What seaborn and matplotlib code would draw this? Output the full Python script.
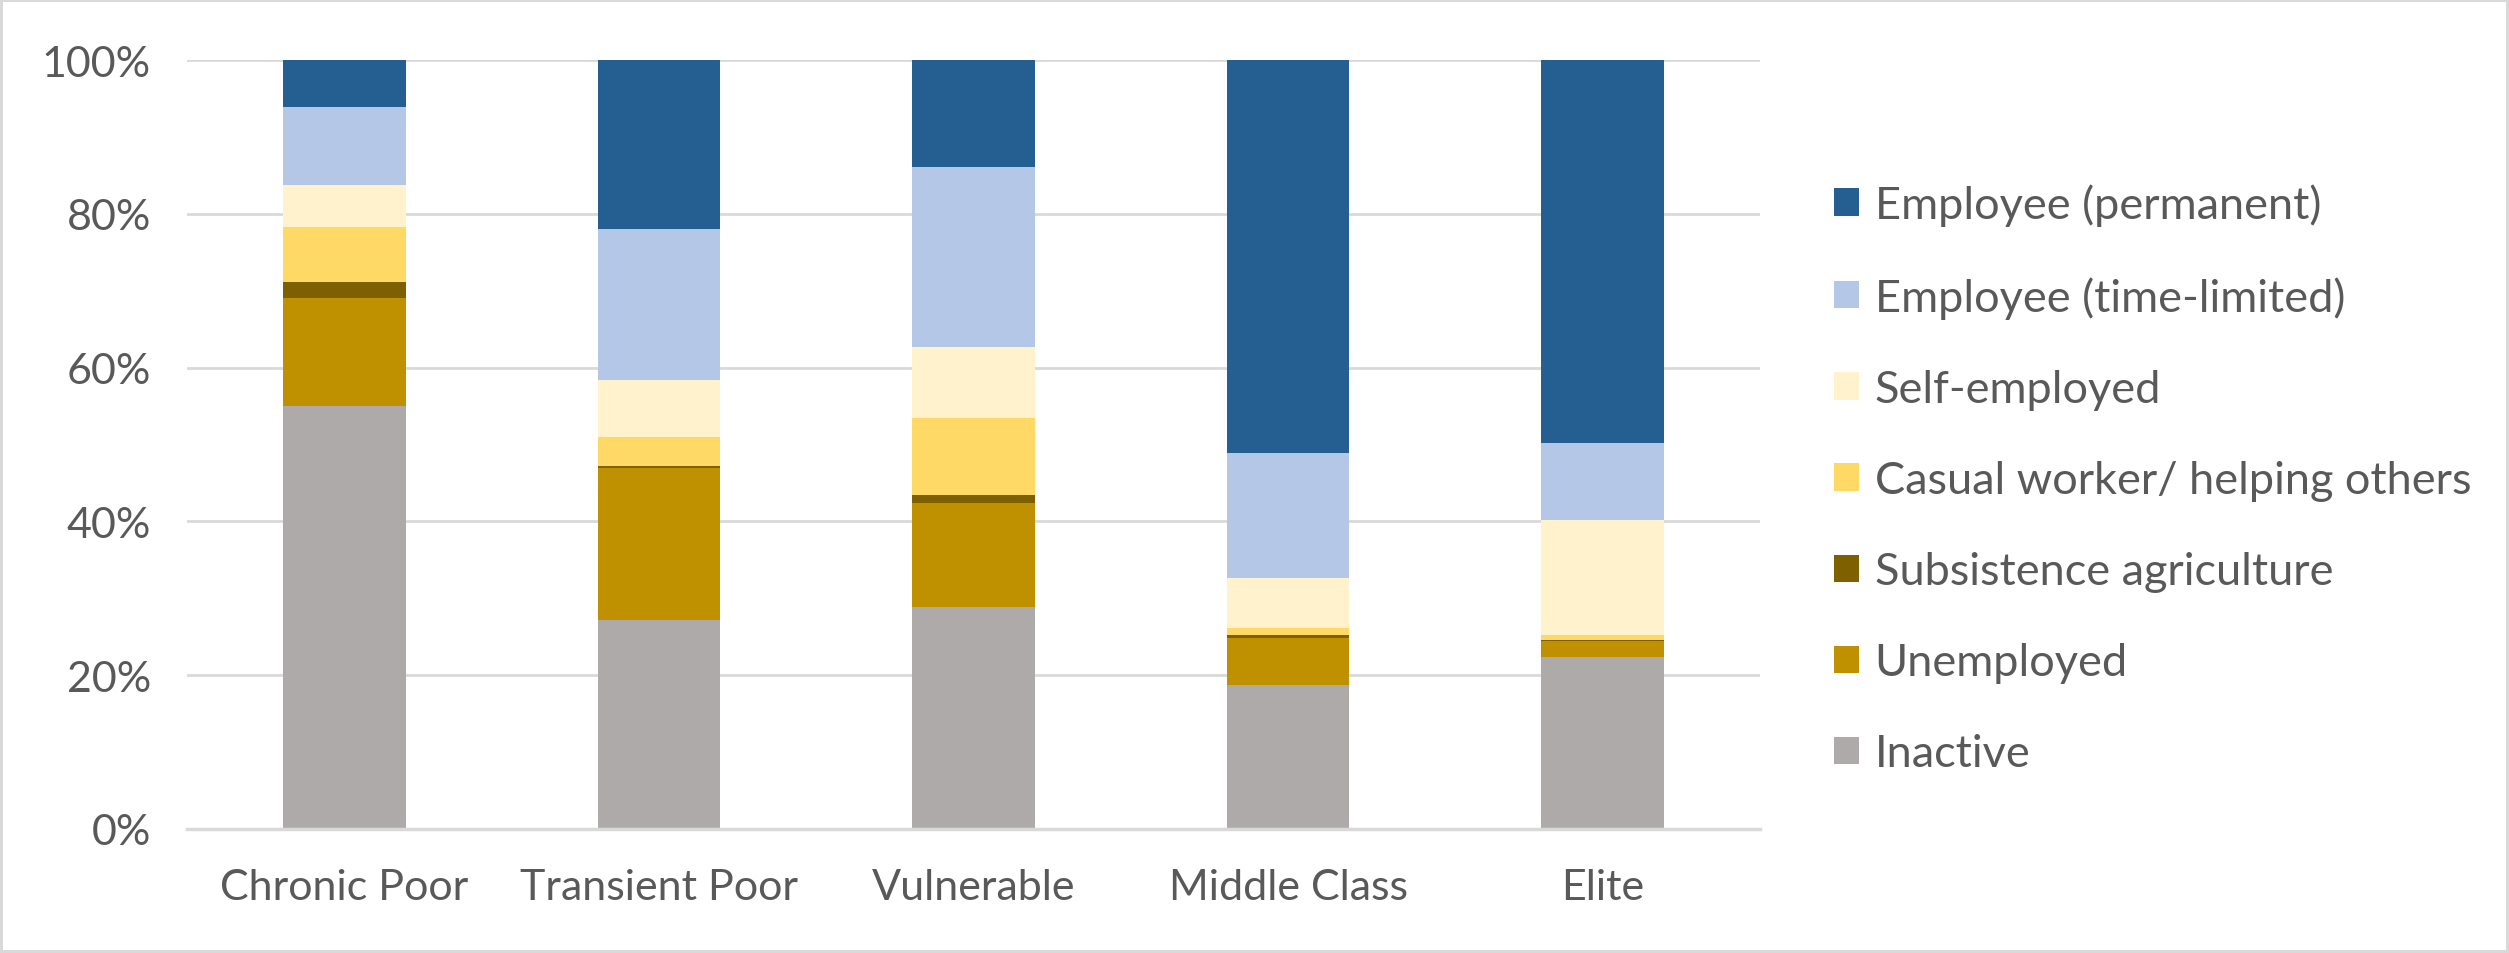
import matplotlib
matplotlib.use("Agg")
import matplotlib.pyplot as plt
from matplotlib.patches import Patch
from matplotlib.ticker import PercentFormatter
import numpy as np
import pandas as pd
import seaborn as sns

# Household groups and labour-market status shares (fraction of members)
groups = ["Chronic Poor", "Transient Poor", "Vulnerable", "Middle Class", "Elite"]

inactive = [0.550, 0.272, 0.289, 0.187, 0.224]
unemployed = [0.140, 0.197, 0.135, 0.061, 0.021]
subsistence = [0.022, 0.003, 0.010, 0.004, 0.001]
casual = [0.071, 0.038, 0.101, 0.009, 0.006]
self_employed = [0.055, 0.074, 0.092, 0.065, 0.150]
time_limited = [0.101, 0.196, 0.234, 0.163, 0.100]
permanent = [0.061, 0.220, 0.139, 0.511, 0.498]

series_names = [
    "Inactive",
    "Unemployed",
    "Subsistence agriculture",
    "Casual worker/ helping others",
    "Self-employed",
    "Employee (time-limited)",
    "Employee (permanent)",
]
series_values = [inactive, unemployed, subsistence, casual,
                 self_employed, time_limited, permanent]
series_colors = ["#AEAAAA", "#BF9000", "#7F6000", "#FFD966",
                 "#FFF2CC", "#B4C7E7", "#255E91"]

text_color = "#595959"
grid_color = "#D9D9D9"
tick_size = 31
legend_size = 32.5

sns.set_theme(style="white")
plt.rcParams["font.family"] = ["Lato", "DejaVu Sans"]

fig = plt.figure(figsize=(25.09, 9.54), dpi=100)
fig.patch.set_facecolor("white")
fig.patch.set_edgecolor(grid_color)
fig.patch.set_linewidth(3)
ax = fig.add_axes([0.0745, 0.130, 0.627, 0.806])

# Stacked bars: draw cumulative totals from the top layer down
vals = np.array(series_values)
cum = np.cumsum(vals, axis=0)
for k in range(len(series_names) - 1, -1, -1):
    df = pd.DataFrame({"group": groups, "value": cum[k]})
    sns.barplot(data=df, x="group", y="value", color=series_colors[k],
                width=0.39, saturation=1, ax=ax, zorder=2 + (6 - k) * 0.01,
                linewidth=0, edgecolor="none")

ax.set_xlim(-0.5, len(groups) - 0.5)
ax.set_ylim(0, 1.0)
ax.set_yticks(np.arange(0, 1.01, 0.2))
ax.yaxis.set_major_formatter(PercentFormatter(1.0, decimals=0))
ax.set_xlabel("")
ax.set_ylabel("")
ax.grid(axis="y", color=grid_color, linewidth=2, zorder=0)
ax.set_axisbelow(True)
for side in ["top", "right", "left"]:
    ax.spines[side].set_visible(False)
ax.spines["bottom"].set_color(grid_color)
ax.spines["bottom"].set_linewidth(2.5)
ax.tick_params(axis="y", length=0, pad=26, labelsize=tick_size, labelcolor=text_color)
ax.tick_params(axis="x", length=0, pad=28, labelsize=tick_size, labelcolor=text_color)

handles = [Patch(facecolor=c, edgecolor="none") for c in series_colors[::-1]]
fig.legend(handles, series_names[::-1], loc="center left",
           bbox_to_anchor=(0.731, 0.497), frameon=False, fontsize=legend_size,
           labelcolor=text_color, handlelength=0.55, handleheight=0.55,
           handletextpad=0.35, labelspacing=1.11, borderpad=0, borderaxespad=0)

fig.savefig("out.png", dpi=100, facecolor=fig.get_facecolor(),
            edgecolor=fig.get_edgecolor())
